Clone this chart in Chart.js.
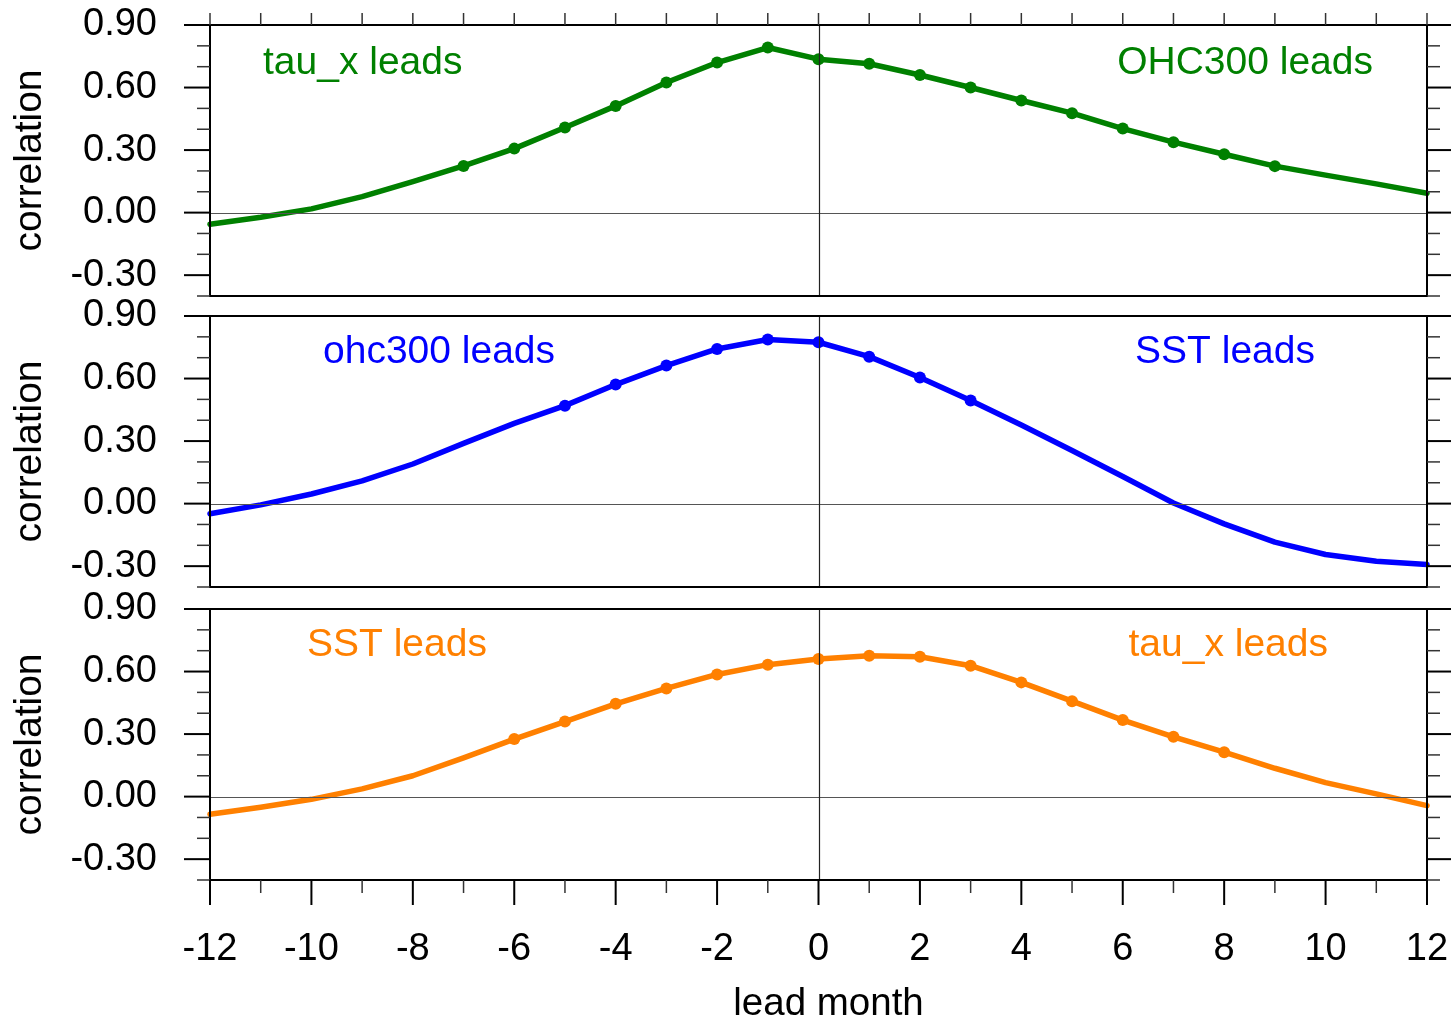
<!DOCTYPE html>
<html>
<head>
<meta charset="utf-8">
<title>lead-lag correlation</title>
<script src="https://cdn.jsdelivr.net/npm/chart.js@4.4.1/dist/chart.umd.min.js"></script>
<style>
    html, body { margin: 0; padding: 0; background: #ffffff; }
    body { width: 1451px; height: 1023px; position: relative; overflow: hidden; }
    .panel { position: absolute; left: 0; width: 1451px; }
</style>
</head>
<body>
<div class="panel" style="top:0px;height:310px"><canvas id="chart1" width="1451" height="310"></canvas></div>
<div class="panel" style="top:290px;height:310px"><canvas id="chart2" width="1451" height="310"></canvas></div>
<div class="panel" style="top:590px;height:433px"><canvas id="chart3" width="1451" height="433"></canvas></div>
<script>

/***************************************************/
/********************** DATA ***********************/
/***************************************************/

const leadMonths = [-12, -11, -10, -9, -8, -7, -6, -5, -4, -3, -2, -1, 0,
                    1, 2, 3, 4, 5, 6, 7, 8, 9, 10, 11, 12];

// tau_x vs OHC300
const corrTauxOhc = [-0.056, -0.022, 0.018, 0.077, 0.149, 0.224, 0.307, 0.408, 0.512, 0.624, 0.720, 0.792, 0.736,
                     0.714, 0.660, 0.600, 0.538, 0.477, 0.403, 0.338, 0.280, 0.223, 0.180, 0.138, 0.093];
// ohc300 vs SST
const corrOhcSst = [-0.049, -0.006, 0.046, 0.109, 0.190, 0.289, 0.385, 0.470, 0.571, 0.662, 0.742, 0.787, 0.774,
                    0.705, 0.605, 0.495, 0.377, 0.255, 0.130, 0.003, -0.097, -0.185, -0.244, -0.276, -0.292];
// SST vs tau_x
const corrSstTaux = [-0.085, -0.051, -0.013, 0.037, 0.100, 0.186, 0.276, 0.360, 0.445, 0.519, 0.586, 0.633, 0.660,
                     0.676, 0.671, 0.628, 0.548, 0.458, 0.367, 0.287, 0.213, 0.136, 0.067, 0.013, -0.043];

// months that carry a dot (first, last)
const markersTauxOhc = [-7, 9];
const markersOhcSst = [-5, 3];
const markersSstTaux = [-6, 8];

const yMajorTicks = [-0.3, 0.0, 0.3, 0.6, 0.9];
const yMinorTicks = [-0.4, -0.2, -0.1, 0.1, 0.2, 0.4, 0.5, 0.7, 0.8];
const xMajorTicks = [-12, -10, -8, -6, -4, -2, 0, 2, 4, 6, 8, 10, 12];
const xMinorTicks = [-11, -9, -7, -5, -3, -1, 1, 3, 5, 7, 9, 11];

const yTitle = 'correlation';
const xTitle = 'lead month';


/***************************************************/
/****************** COLORS / FONT ******************/
/***************************************************/
const fontFamily = '"Liberation Sans", Arial, Helvetica, sans-serif';
const c_green = '#008000';
const c_blue = '#0000ff';
const c_orange = '#ff8000';
const c_black = '#000000';

Chart.defaults.font.family = fontFamily;
Chart.defaults.color = c_black;


/***************************************************/
/************* FRAME, TICKS AND TEXTS **************/
/***************************************************/
function tickMark(ctx, x1, y1, x2, y2, width) {
    ctx.lineWidth = width;
    ctx.beginPath();
    ctx.moveTo(x1, y1);
    ctx.lineTo(x2, y2);
    ctx.stroke();
}

// labels eat layout room in chart.js, drop that so the plot box stays put
function noScalePadding(scale) {
    scale.paddingTop = 0;
    scale.paddingBottom = 0;
    scale.paddingLeft = 0;
    scale.paddingRight = 0;
}

const panelDecor = {
    id: 'panelDecor',
    afterDatasetsDraw(chart, args, opts) {
        const ctx = chart.ctx;
        const area = chart.chartArea;
        const xs = chart.scales.x;
        const ys = chart.scales.y;
        ctx.save();

        // zero lines
        var y0 = Math.round(ys.getPixelForValue(0)) + 0.5;
        ctx.strokeStyle = '#555555';
        tickMark(ctx, area.left, y0, area.right, y0, 1.2);
        var x0 = Math.round(xs.getPixelForValue(0)) + 0.5;
        ctx.strokeStyle = '#222222';
        tickMark(ctx, x0, area.top, x0, area.bottom, 1.2);

        // frame
        ctx.strokeStyle = c_black;
        ctx.lineWidth = 2;
        ctx.strokeRect(area.left, area.top, area.right - area.left, area.bottom - area.top);

        // y ticks, left and right, pointing outward
        yMajorTicks.forEach(v => {
            var y = ys.getPixelForValue(v);
            tickMark(ctx, area.left - 26, y, area.left, y, 2);
            tickMark(ctx, area.right, y, area.right + 26, y, 2);
        });
        ctx.strokeStyle = '#333333';
        yMinorTicks.forEach(v => {
            var y = ys.getPixelForValue(v);
            tickMark(ctx, area.left - 13, y, area.left, y, 1.5);
            tickMark(ctx, area.right, y, area.right + 13, y, 1.5);
        });

        // x ticks on the top edge (first panel only)
        if (opts.topTicks) {
            xMajorTicks.concat(xMinorTicks).forEach(v => {
                var x = xs.getPixelForValue(v);
                tickMark(ctx, x, area.top - 12, x, area.top, 1.5);
            });
        }
        // x ticks on the bottom edge (last panel only)
        if (opts.bottomTicks) {
            ctx.strokeStyle = c_black;
            xMajorTicks.forEach(v => {
                var x = xs.getPixelForValue(v);
                tickMark(ctx, x, area.bottom, x, area.bottom + 25, 2);
            });
            ctx.strokeStyle = '#333333';
            xMinorTicks.forEach(v => {
                var x = xs.getPixelForValue(v);
                tickMark(ctx, x, area.bottom, x, area.bottom + 13, 1.5);
            });
        }

        // "xxx leads" texts
        ctx.font = '39px ' + fontFamily;
        ctx.fillStyle = opts.color;
        ctx.textBaseline = 'alphabetic';
        ctx.textAlign = 'left';
        ctx.fillText(opts.leftText, area.left + opts.leftInset, area.top + opts.textDrop);
        ctx.textAlign = 'right';
        ctx.fillText(opts.rightText, area.right - opts.rightInset, area.top + opts.textDrop);

        // x axis title
        if (opts.xTitle) {
            ctx.font = '38.5px ' + fontFamily;
            ctx.fillStyle = c_black;
            ctx.textAlign = 'center';
            ctx.fillText(opts.xTitle, xs.getPixelForValue(0) + 10, area.bottom + 135);
        }
        ctx.restore();
    }
};


/***************************************************/
/***************** DRAWING PANELS ******************/
/***************************************************/
function drawPanel(chartId, values, color, markerRange, decor, padding, showX) {

    var data = {
        labels: leadMonths,
        datasets: [{
            data: leadMonths.map((m, i) => ({ x: m, y: values[i] })),
            borderColor: color,
            backgroundColor: color,
            borderWidth: 5.5,
            borderJoinStyle: 'round',
            borderCapStyle: 'round',
            tension: 0,
            pointRadius: ctx => {
                var m = leadMonths[ctx.dataIndex];
                return (m >= markerRange[0] && m <= markerRange[1]) ? 6 : 0;
            },
            pointBorderWidth: 0,
            pointBackgroundColor: color,
            clip: 3
        }]
    };

    var options = {
        responsive: false,
        animation: false,
        layout: {
            autoPadding: false,
            padding: padding
        },
        plugins: {
            legend: { display: false },
            tooltip: { enabled: false },
            panelDecor: decor
        },
        scales: {
            x: {
                type: 'linear',
                min: -12,
                max: 12,
                display: showX,
                grid: { display: false, drawTicks: false },
                border: { display: false },
                afterBuildTicks: scale => { scale.ticks = xMajorTicks.map(v => ({ value: v })); },
                afterFit: scale => {
                    scale.height = showX ? 143 : 0;
                    noScalePadding(scale);
                },
                ticks: {
                    font: { size: 38 },
                    color: c_black,
                    padding: 47,
                    maxRotation: 0,
                    autoSkip: false
                }
            },
            y: {
                min: -0.4,
                max: 0.9,
                grid: { display: false, drawTicks: false },
                border: { display: false },
                afterBuildTicks: scale => { scale.ticks = yMajorTicks.map(v => ({ value: v })); },
                afterFit: scale => {
                    scale.width = 210;
                    noScalePadding(scale);
                },
                ticks: {
                    font: { size: 38 },
                    color: c_black,
                    padding: 53,
                    callback: v => v.toFixed(2)
                },
                title: {
                    display: true,
                    text: yTitle,
                    font: { size: 39 },
                    color: c_black,
                    padding: { top: 7, bottom: 0 }
                }
            }
        }
    };

    var ctx = document.getElementById(chartId).getContext('2d');
    return new Chart(ctx, {
        type: 'line',
        data: data,
        options: options,
        plugins: [panelDecor]
    });
}

drawPanel('chart1', corrTauxOhc, c_green, markersTauxOhc,
    { color: c_green, leftText: 'tau_x leads', rightText: 'OHC300 leads',
      leftInset: 53, rightInset: 54, textDrop: 49, topTicks: true },
    { top: 25, right: 24, bottom: 14, left: 0 }, false);

drawPanel('chart2', corrOhcSst, c_blue, markersOhcSst,
    { color: c_blue, leftText: 'ohc300 leads', rightText: 'SST leads',
      leftInset: 113, rightInset: 112, textDrop: 47 },
    { top: 26, right: 24, bottom: 13, left: 0 }, false);

drawPanel('chart3', corrSstTaux, c_orange, markersSstTaux,
    { color: c_orange, leftText: 'SST leads', rightText: 'tau_x leads',
      leftInset: 97, rightInset: 99, textDrop: 47, bottomTicks: true, xTitle: xTitle },
    { top: 19, right: 24, bottom: 0, left: 0 }, true);

</script>
</body>
</html>
